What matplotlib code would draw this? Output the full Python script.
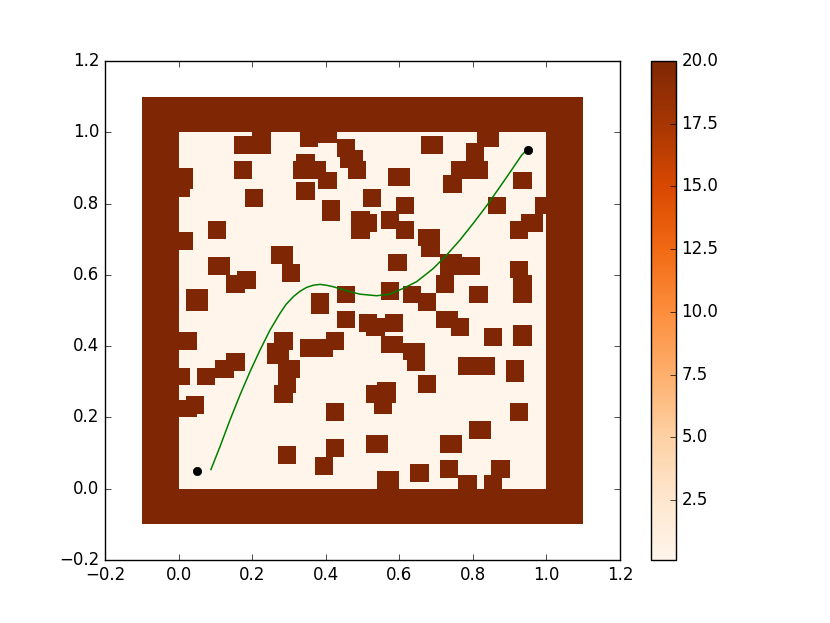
import numpy as np
import matplotlib
matplotlib.use('Agg')
import matplotlib.pyplot as plt

# obstacle boxes: lower-left corner, width, height (data units)
obs_x = [0.15, 0.20, 0.333, 0.38, 0.43, 0.445, 0.46, 0.32, 0.31, 0.355, 0.38, 0.32,
         0.15, 0.176, 0.393, 0.466, 0.466, 0.49, 0.078, -0.01, 0.248, 0.285,
         0.078, 0.126, 0.162, 0.017, 0.357, 0.43, -0.01, -0.02,
         0.806, 0.781, 0.661, 0.745, 0.79, 0.72, 0.575, 0.914, 0.502, 0.586,
         0.55, 0.586, 0.842, 0.975, 0.926, 0.903, 0.647, 0.659, 0.706, 0.756,
         0.697, 0.575, 0.903, 0.914, 0.914, 0.55, 0.611, 0.647, 0.792,
         0.43, 0.0, 0.126, 0.101, 0.053, -0.02, 0.017, 0.0, 0.26, 0.237, 0.273,
         0.273, 0.26, 0.333, 0.37, 0.405, 0.405, 0.273, 0.405, 0.369,
         0.49, 0.56, 0.514, 0.55, 0.611, 0.623, 0.697, 0.744, 0.83, 0.914,
         0.757, 0.81, 0.89, 0.647, 0.538, 0.514, 0.527, 0.903, 0.793, 0.514,
         0.709, 0.538, 0.635, 0.709, 0.756, 0.854, 0.83]
obs_y = [0.94, 0.94, 0.964, 0.975, 0.93, 0.90, 0.866, 0.89, 0.866, 0.866, 0.843, 0.807,
         0.868, 0.794, 0.747, 0.735, 0.698, 0.721, 0.698, 0.674, 0.626, 0.576,
         0.602, 0.553, 0.565, 0.504, 0.492, 0.516, 0.843, 0.82,
         0.964, 0.916, 0.94, 0.866, 0.866, 0.832, 0.855, 0.843, 0.794, 0.77,
         0.735, 0.698, 0.77, 0.77, 0.721, 0.698, 0.684, 0.648, 0.60, 0.60,
         0.553, 0.612, 0.588, 0.55, 0.516, 0.528, 0.516, 0.504, 0.516,
         0.455, 0.394, 0.335, 0.31, 0.286, 0.286, 0.214, 0.202, 0.394, 0.347, 0.31,
         0.274, 0.238, 0.37, 0.37, 0.394, 0.19, 0.068, 0.09, 0.043,
         0.443, 0.443, 0.431, 0.384, 0.361, 0.335, 0.455, 0.431, 0.396, 0.396,
         0.322, 0.322, 0.30, 0.274, 0.245, 0.245, 0.214, 0.19, 0.141, 0.104,
         0.104, -0.005, 0.02, 0.032, -0.005, 0.032, -0.005]
obs_w = [0.05, 0.05, 0.05, 0.05, 0.05, 0.055, 0.055, 0.05, 0.05, 0.05, 0.05, 0.05,
         0.05, 0.05, 0.05, 0.05, 0.05, 0.05, 0.05, 0.05, 0.06, 0.05,
         0.06, 0.05, 0.05, 0.06, 0.05, 0.05, 0.05, 0.05,
         0.06, 0.05, 0.06, 0.05, 0.05, 0.05, 0.06, 0.05, 0.05, 0.05,
         0.05, 0.05, 0.05, 0.05, 0.06, 0.05, 0.06, 0.05, 0.06, 0.06,
         0.05, 0.05, 0.05, 0.05, 0.05, 0.05, 0.05, 0.05, 0.05,
         0.05, 0.055, 0.05, 0.05, 0.05, 0.05, 0.05, 0.055, 0.05, 0.06, 0.06,
         0.05, 0.05, 0.05, 0.05, 0.05, 0.05, 0.05, 0.05, 0.05,
         0.05, 0.05, 0.05, 0.06, 0.06, 0.05, 0.06, 0.05, 0.05, 0.05,
         0.055, 0.055, 0.05, 0.05, 0.05, 0.05, 0.05, 0.05, 0.06, 0.06,
         0.06, 0.06, 0.05, 0.05, 0.05, 0.05, 0.05]
obs_h = [0.05, 0.06, 0.05, 0.05, 0.05, 0.05, 0.05, 0.05, 0.05, 0.05, 0.05, 0.05,
         0.05, 0.05, 0.06, 0.05, 0.05, 0.05, 0.05, 0.05, 0.05, 0.05,
         0.05, 0.05, 0.05, 0.06, 0.06, 0.05, 0.06, 0.05,
         0.05, 0.05, 0.05, 0.05, 0.05, 0.05, 0.05, 0.05, 0.05, 0.05,
         0.05, 0.05, 0.05, 0.05, 0.05, 0.05, 0.05, 0.05, 0.06, 0.05,
         0.05, 0.05, 0.05, 0.05, 0.05, 0.05, 0.05, 0.05, 0.05,
         0.05, 0.05, 0.05, 0.05, 0.05, 0.05, 0.05, 0.05, 0.05, 0.06, 0.05,
         0.05, 0.05, 0.05, 0.05, 0.05, 0.05, 0.05, 0.05, 0.05,
         0.05, 0.05, 0.05, 0.05, 0.05, 0.05, 0.05, 0.05, 0.05, 0.06,
         0.05, 0.05, 0.06, 0.05, 0.055, 0.05, 0.05, 0.05, 0.05, 0.05,
         0.05, 0.06, 0.05, 0.05, 0.05, 0.05, 0.05]

# planned path and endpoints
path_x = [0.088, 0.1125, 0.1397, 0.1669, 0.194, 0.2213, 0.2484, 0.2756, 0.292,
          0.3118, 0.33, 0.348, 0.366, 0.3843, 0.402, 0.4205, 0.457, 0.493, 0.5385,
          0.5746, 0.6108, 0.647, 0.6924, 0.7287, 0.765, 0.801, 0.8374, 0.8736,
          0.905, 0.9326, 0.9416]
path_y = [0.054, 0.118, 0.1928, 0.263, 0.328, 0.389, 0.445, 0.492, 0.517,
          0.5388, 0.554, 0.565, 0.571, 0.5734, 0.571, 0.5668, 0.5556, 0.546, 0.5416,
          0.546, 0.5622, 0.581, 0.618, 0.6557, 0.698, 0.7446, 0.794, 0.847,
          0.894, 0.936, 0.9456]
start = (0.05, 0.05)
goal = (0.95, 0.95)

free_val = 0.1
occ_val = 20.0

plt.style.use('classic')

# occupancy grid, 0.01 resolution, outer wall from -0.1 to 1.1
edges = np.linspace(-0.1, 1.1, 121)
centers = (edges[:-1] + edges[1:]) / 2
XC, YC = np.meshgrid(centers, centers)
grid = np.full(XC.shape, free_val)
wall = (XC < 0) | (XC > 1) | (YC < 0) | (YC > 1)
grid[wall] = occ_val
for x0, y0, w, h in zip(obs_x, obs_y, obs_w, obs_h):
    inside = (XC >= x0) & (XC < x0 + w) & (YC >= y0) & (YC < y0 + h)
    grid[inside] = occ_val

fig = plt.figure(figsize=(8.3, 6.23), dpi=100)
ax = fig.add_axes([0.1265, 0.101, 0.6205, 0.801])
cax = fig.add_axes([0.7845, 0.101, 0.0300, 0.801])

mesh = ax.pcolormesh(edges, edges, grid, cmap='Oranges', vmin=free_val, vmax=occ_val,
                     linewidth=0)
ax.plot(path_x, path_y, 'g-', lw=1.1)
ax.plot([start[0], goal[0]], [start[1], goal[1]], 'ko')

ax.set_xlim(-0.2, 1.2)
ax.set_ylim(-0.2, 1.2)

cb = fig.colorbar(mesh, cax=cax)
cb.set_ticks([2.5, 5.0, 7.5, 10.0, 12.5, 15.0, 17.5, 20.0])

fig.savefig('out.png', dpi=100)
